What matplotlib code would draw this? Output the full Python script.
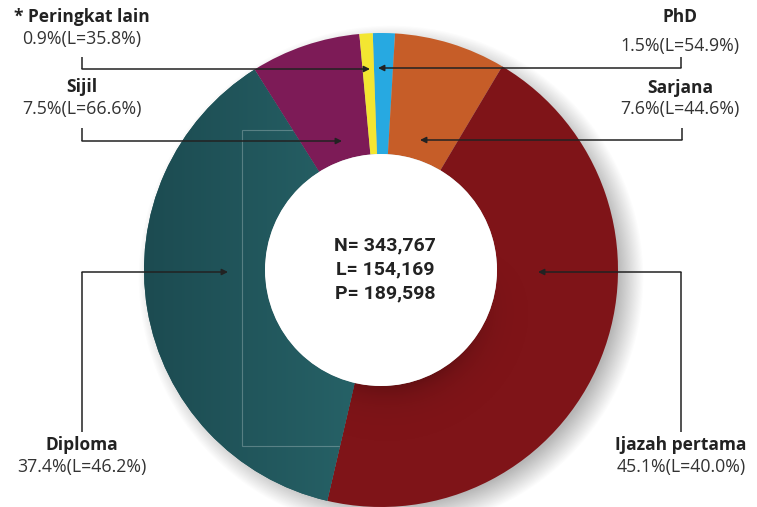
import matplotlib
matplotlib.use('Agg')
import matplotlib.pyplot as plt
import numpy as np
from matplotlib.patches import Circle, Rectangle
from matplotlib.colors import LinearSegmentedColormap

# data (clockwise from the top)
categories = ['PhD', 'Sarjana', 'Ijazah pertama', 'Diploma', 'Sijil', '* Peringkat lain']
share = [1.5, 7.6, 45.1, 37.4, 7.5, 0.9]
share_L = [54.9, 44.6, 40.0, 46.2, 66.6, 35.8]
totals = ['N= 343,767', 'L= 154,169', 'P= 189,598']

COLORS = ['#27a9e1', '#c65d28', '#7f1418', '#235a60', '#7d1b57', '#f3e631']
INK = '#222222'
TXT = '#333333'
FONT = 'Open Sans'

W, H = 757, 507
def Y(y):
    return H - y

fig = plt.figure(figsize=(W / 100, H / 100), dpi=100)
ax = fig.add_axes([0, 0, 1, 1])

CX, CY = 381, Y(270)
R, r = 237, 116

# soft drop shadow to the lower right
for k in range(24):
    ax.add_patch(Circle((CX + 10, CY - 8), R - 10 + k * 1.1, facecolor='#000000',
                        edgecolor='none', alpha=0.013, zorder=1))

wedges, _ = ax.pie(share, colors=COLORS, startangle=92, counterclock=False,
                   radius=R, center=(CX, CY),
                   wedgeprops=dict(width=R - r, linewidth=0))
for w in wedges:
    w.set_zorder(2)

# teal slice horizontal gradient
teal = wedges[3]
grad = np.linspace(0, 1, 256).reshape(1, -1)
cm_teal = LinearSegmentedColormap.from_list('teal', ['#1c4b51', '#28656a'])
im = ax.imshow(grad, cmap=cm_teal, extent=(CX - R, CX + 10, CY - R, CY + R),
               aspect='auto', zorder=3)
im.set_clip_path(teal)

# soft shade on the red slice along the hole edge
red = wedges[2]
gx, gy = np.meshgrid(np.linspace(CX - R, CX + R, 300), np.linspace(CY - R, CY + R, 300))
dist = np.hypot(gx - CX, gy - CY)
ang = np.arctan2(gy - CY, gx - CX)
fall = np.exp(-np.clip(dist - r, 0, None) / 14.0)
aw = np.clip(np.cos(ang - np.deg2rad(-75)), 0, 1) ** 2
shade = np.zeros(gx.shape + (4,))
shade[..., 3] = 0.22 * fall * aw
im2 = ax.imshow(shade, extent=(CX - R, CX + R, CY - R, CY + R), origin='lower',
                aspect='auto', zorder=3)
im2.set_clip_path(red)

# faint frame left over in the artwork
frame = Rectangle((242, Y(446)), 318, 316, fill=False, edgecolor='white',
                  lw=0.8, alpha=0.25, zorder=4)
ax.add_patch(frame)
frame.set_clip_path(teal)

# hole
ax.add_patch(Circle((CX, CY), r, facecolor='white', edgecolor='none', zorder=5))

# centre totals
for s, yy in zip(totals, [245, 269, 293]):
    ax.text(385, Y(yy), s, ha='center', va='center', fontsize=14,
            fontweight='bold', color=INK, family='Roboto', zorder=6)

def label(i, x, ty, vy):
    ax.text(x, Y(ty), categories[i], ha='center', va='center', fontsize=12.5,
            fontweight='bold', color=INK, family=FONT, zorder=6)
    ax.text(x, Y(vy), f'{share[i]:.1f}%(L={share_L[i]:.1f}%)', ha='center',
            va='center', fontsize=12.8, color=TXT, family=FONT, zorder=6)

def pointer(x0, y0, y1, x1):
    ax.plot([x0, x0], [Y(y0), Y(y1)], color=INK, lw=1.1, zorder=6,
            solid_capstyle='butt')
    ax.annotate('', xy=(x1, Y(y1)), xytext=(x0, Y(y1)),
                arrowprops=dict(arrowstyle='-|>', color=INK, lw=1.1,
                                shrinkA=0, shrinkB=0, mutation_scale=9),
                zorder=7)

label(5, 82, 17, 39)
pointer(82, 57, 69, 370)
label(4, 82, 87, 109)
pointer(82, 128, 141, 342)
label(0, 680, 17, 46)
pointer(681, 57, 68, 378)
label(1, 680, 88, 109)
pointer(682, 128, 140, 420)
label(3, 82, 445, 467)
pointer(82, 432, 272, 228)
label(2, 681, 445, 467)
pointer(681, 432, 272, 538)

ax.set_xlim(0, W)
ax.set_ylim(0, H)
ax.set_aspect('equal')
ax.axis('off')

fig.savefig('out.png', dpi=100, facecolor='white')
